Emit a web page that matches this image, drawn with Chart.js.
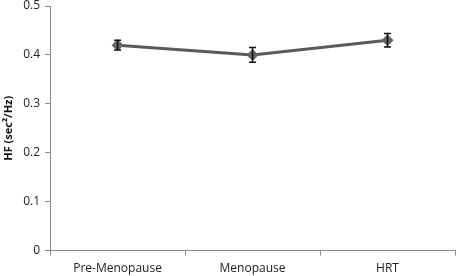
<!DOCTYPE html>
<html>
<head>
<meta charset="utf-8">
<script src="https://cdn.jsdelivr.net/npm/chart.js@4"></script>
<style>
  html, body { margin: 0; padding: 0; background: #fff; }
  #wrap { width: 461px; height: 276px; }
</style>
</head>
<body>
<div id="wrap"><canvas id="myChart"></canvas></div>
<script>
var groups = ['Pre-Menopause', 'Menopause', 'HRT'];
var hfValues = [0.42, 0.40, 0.43];
var hfErrors = [0.010, 0.015, 0.014];
var yTicks = [0, 0.1, 0.2, 0.3, 0.4, 0.5];

// draws the error bars through the y scale
var errorBars = {
  id: 'errorBars',
  afterDatasetsDraw: function(chart) {
    var ctx = chart.ctx;
    var meta = chart.getDatasetMeta(0);
    var y = chart.scales.y;
    ctx.save();
    ctx.strokeStyle = '#111';
    ctx.lineWidth = 1.5;
    meta.data.forEach(function(pt, i) {
      var top = y.getPixelForValue(hfValues[i] + hfErrors[i]);
      var bot = y.getPixelForValue(hfValues[i] - hfErrors[i]);
      ctx.beginPath();
      ctx.moveTo(pt.x, top); ctx.lineTo(pt.x, bot);
      ctx.moveTo(pt.x - 3.5, top); ctx.lineTo(pt.x + 3.5, top);
      ctx.moveTo(pt.x - 3.5, bot); ctx.lineTo(pt.x + 3.5, bot);
      ctx.stroke();
    });
    ctx.restore();
  }
};

var ctx = document.getElementById('myChart').getContext('2d');
var myChart = new Chart(ctx, {
  type: 'line',
  data: {
    labels: groups,
    datasets: [{
      label: 'HF',
      data: hfValues,
      borderColor: '#5a5a5a',
      borderWidth: 3,
      backgroundColor: '#666',
      pointStyle: 'rectRot',
      pointRadius: 6,
      pointBorderWidth: 0,
      tension: 0
    }]
  },
  options: {
    responsive: true,
    maintainAspectRatio: false,
    animation: false,
    layout: { padding: { top: 0, right: 3, bottom: 0, left: 2 } },
    plugins: {
      legend: { display: false },
      tooltip: { enabled: false }
    },
    scales: {
      x: {
        offset: true,
        afterFit: function(axis) { axis.height -= 6; },
        grid: { display: true, offset: true, drawOnChartArea: false, drawTicks: true, tickLength: 5, color: '#8a8a8a' },
        border: { color: '#8a8a8a', width: 1 },
        ticks: { color: '#222', font: { family: 'Open Sans', size: 12 }, padding: 6 }
      },
      y: {
        min: 0,
        max: 0.5,
        afterBuildTicks: function(axis) {
          axis.ticks = yTicks.map(function(v) { return { value: v }; });
        },
        afterFit: function(axis) { axis.paddingTop = 3; },
        grid: { display: true, drawOnChartArea: false, drawTicks: true, tickLength: 5, color: '#8a8a8a' },
        border: { color: '#8a8a8a', width: 1 },
        ticks: {
          color: '#222',
          font: { family: 'Open Sans', size: 12 },
          padding: 5,
          callback: function(v) { return v === 0 ? '0' : v.toFixed(1); }
        },
        title: {
          display: true,
          text: 'HF (sec²/Hz)',
          color: '#111',
          font: { family: 'Open Sans', size: 11, weight: 'bold' },
          padding: { top: 0, bottom: 3 }
        }
      }
    }
  },
  plugins: [errorBars]
});
</script>
</body>
</html>
